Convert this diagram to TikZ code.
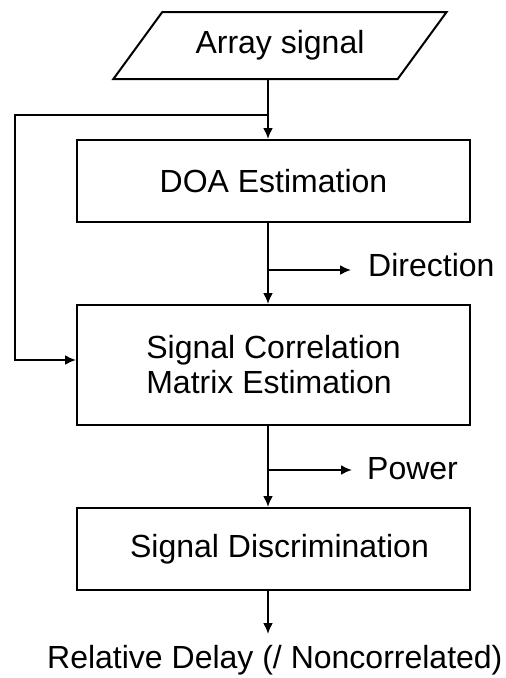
\documentclass[tikz,border=0pt]{standalone}
\usepackage{fontspec}
\setmainfont{Liberation Sans}
\usetikzlibrary{arrows.meta,positioning,shapes.geometric}

\begin{document}
\begin{tikzpicture}[x=1pt,y=-1pt,
    box/.style={draw,line width=2pt,minimum width=393pt,font=\fontsize{32}{35}\selectfont},
    flow/.style={line width=2pt,-{Latex[length=11pt,width=10pt]}},
    lbl/.style={font=\fontsize{32}{35}\selectfont,inner sep=0pt}]
  \useasboundingbox (0,0) rectangle (506,678);
  \coordinate (spine) at (268,0);
  \node[draw,line width=2pt,trapezium,trapezium left angle=45,trapezium right angle=135,
    trapezium stretches=true,minimum width=334pt,minimum height=67pt,
    font=\fontsize{32}{35}\selectfont] (array) at (280,45.5) {Array signal};
  \node[box,minimum height=82pt] (doa) at (273.5,181) {DOA Estimation};
  \node[box,minimum height=120pt,align=left] (scm) at (273.5,365) {Signal Correlation\\Matrix Estimation};
  \node[box,minimum height=82pt] (disc) at (273.5,549) {\hspace*{12pt}Signal Discrimination};
  \node[lbl,anchor=base west] (dir) at (368,276) {Direction};
  \node[lbl,anchor=base west] (pow) at (367,479) {Power};
  \node[lbl,anchor=base west] (delay) at (47,668) {Relative Delay (/ Noncorrelated)};
  \coordinate (split) at (268,115); \coordinate (back) at (15,115);
  \coordinate (dirsplit) at (268,270); \coordinate (powsplit) at (268,470);
  \coordinate (outtip) at (268,634);
  \draw[flow] (array.south -| spine) -- (doa.north -| spine);
  \draw[flow] (split) -- (back) |- ([yshift=5pt]scm.west);
  \draw[flow] (doa.south -| spine) -- (scm.north -| spine);
  \draw[flow] (dirsplit) -- ([xshift=-17pt]dir.west |- dirsplit);
  \draw[flow] (scm.south -| spine) -- (disc.north -| spine);
  \draw[flow] (powsplit) -- ([xshift=-15pt]pow.west |- powsplit);
  \draw[flow] (disc.south -| spine) -- (outtip);
\end{tikzpicture}
\end{document}
